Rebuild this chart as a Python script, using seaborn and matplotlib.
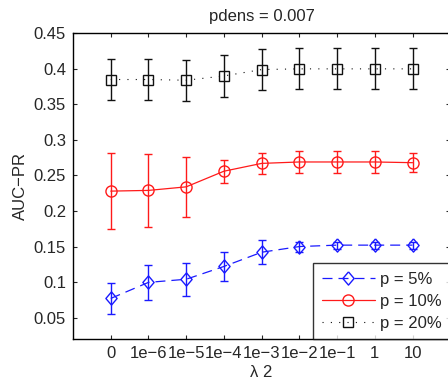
import numpy as np
import pandas as pd
import matplotlib
matplotlib.use("Agg")
import matplotlib.pyplot as plt
import seaborn as sns

sns.set_style("ticks")
plt.rcParams['font.family'] = ['Liberation Sans', 'DejaVu Sans']

# data
lam_labels = ['0', '1e\u22126', '1e\u22125', '1e\u22124', '1e\u22123', '1e\u22122', '1e\u22121', '1', '10']
auc_p5 = [0.077, 0.0996, 0.104, 0.122, 0.142, 0.150, 0.152, 0.152, 0.152]
err_p5 = [0.022, 0.025, 0.023, 0.020, 0.017, 0.007, 0.005, 0.005, 0.005]
auc_p10 = [0.228, 0.229, 0.234, 0.256, 0.267, 0.269, 0.269, 0.269, 0.268]
err_p10 = [0.054, 0.051, 0.042, 0.016, 0.015, 0.016, 0.016, 0.016, 0.013]
auc_p20 = [0.385, 0.385, 0.384, 0.390, 0.399, 0.400, 0.400, 0.400, 0.400]
err_p20 = [0.029, 0.029, 0.029, 0.030, 0.029, 0.029, 0.029, 0.029, 0.029]

series = ['p = 5%', 'p = 10%', 'p = 20%']
means = [auc_p5, auc_p10, auc_p20]
errs = [err_p5, err_p10, err_p20]
colors = ['#1a1aff', '#ff1a1a', '#111111']
diamond = [(0, 1), (0.85, 0), (0, -1), (-0.85, 0), (0, 1)]
markers = [diamond, 'o', 's']
msizes = [9.5, 8, 6.5]
dashes = [(8, 4.8), '', (1, 6.5)]
widths = [0.9, 0.9, 0.8]

x = np.arange(len(lam_labels))
df = pd.DataFrame({
    'x': np.tile(x, 3),
    'auc': np.concatenate(means),
    'err': np.concatenate(errs),
    'series': np.repeat(series, len(x)),
})

fig = plt.figure(figsize=(4.48, 3.83), dpi=100)
ax = fig.add_axes([0.163, 0.115, 0.842, 0.798])

for name, col, mk, ms, ds, lw in zip(series, colors, markers, msizes, dashes, widths):
    sub = df[df['series'] == name]
    ax.errorbar(sub['x'], sub['auc'], yerr=sub['err'], fmt='none', ecolor=col,
                elinewidth=1.0, capsize=3, capthick=1.0, zorder=2)
    sns.lineplot(data=sub, x='x', y='auc', color=col, marker=mk, markersize=ms,
                 markerfacecolor='none', markeredgecolor=col, markeredgewidth=1.0,
                 linewidth=lw, dashes=False, label=name, ax=ax, zorder=3)
    line = ax.lines[-1]
    if ds:
        line.set_dashes(ds)

ax.set_xlim(-1, 9)
ax.set_ylim(0.02, 0.45)
ax.set_xticks(x)
ax.set_xticklabels(lam_labels)
ax.set_yticks([0.05, 0.1, 0.15, 0.2, 0.25, 0.3, 0.35, 0.4, 0.45])
ax.set_yticklabels(['0.05', '0.1', '0.15', '0.2', '0.25', '0.3', '0.35', '0.4', '0.45'])
ax.tick_params(direction='in', length=3, width=0.8, labelsize=12,
               top=True, right=True, pad=5)
for sp in ax.spines.values():
    sp.set_linewidth(1.0)
    sp.set_color('black')

ax.set_xlabel('λ 2', fontsize=12, labelpad=3)
ax.set_ylabel('AUC\u2212PR', fontsize=12, labelpad=4)
ax.set_title('pdens = 0.007', fontsize=12, pad=9)

leg = ax.legend(loc='lower right', fontsize=12, handlelength=3.2, frameon=True,
                fancybox=False, edgecolor='black', borderaxespad=0,
                borderpad=0.5, labelspacing=0.42, handletextpad=0.3)
leg.get_frame().set_linewidth(1.0)

fig.savefig('out.png', dpi=100)
